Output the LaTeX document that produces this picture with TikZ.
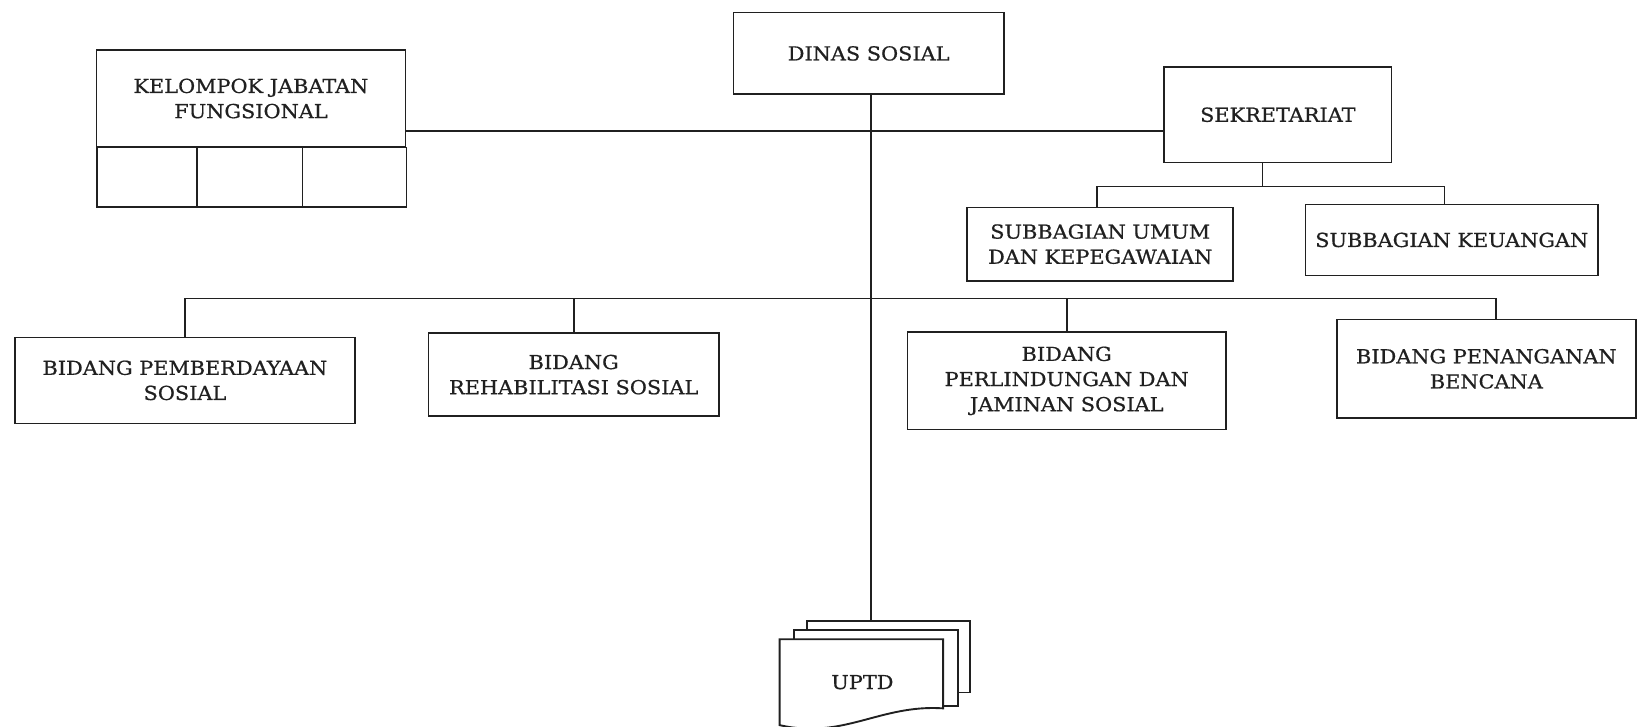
\documentclass[tikz,border=0pt]{standalone}
\usepackage{fontspec}
\setmainfont{DejaVu Serif}[FakeStretch=1.08, FakeBold=0.7]
\usetikzlibrary{calc}
\definecolor{ink}{HTML}{202020}
\begin{document}
\begin{tikzpicture}[x=0.5pt,y=-0.5pt,
  box/.style={draw=ink, line width=0.8pt, fill=white, align=center, inner sep=2pt,
    text=ink, font=\fontsize{9.2}{12}\selectfont},
  wire/.style={draw=ink, line width=0.8pt},
  sheet/.style={draw=ink, line width=0.9pt, fill=white}]
\useasboundingbox (0,0) rectangle (1568,693);

% head office and secretariat
\node[box, minimum width=129pt, minimum height=39pt] (dinas) at (829,51) {DINAS SOSIAL};
\node[box, minimum width=108.5pt, minimum height=45.5pt] (sek) at (1219.5,109.5) {SEKRETARIAT};
\node[box, minimum width=127pt, minimum height=35pt] (sub1) at (1050,233) {SUBBAGIAN UMUM\\DAN KEPEGAWAIAN};
\node[box, minimum width=139.5pt, minimum height=34pt] (sub2) at (1385.5,229) {SUBBAGIAN KEUANGAN};

% functional group with its three empty cells
\node[box, minimum width=147.5pt, minimum height=46pt] (kjf) at (239.5,94) {KELOMPOK JABATAN\\FUNGSIONAL};
\node[box, minimum width=47.5pt, minimum height=28.5pt, anchor=north west] (kjfa) at (92,140) {};
\node[box, minimum width=50.5pt, minimum height=28.5pt, anchor=north west] (kjfb) at (187,140) {};
\node[box, minimum width=49.5pt, minimum height=28.5pt, anchor=north west] (kjfc) at (288,140) {};

% divisions
\node[box, minimum width=162.5pt, minimum height=41pt] (b1) at (176.5,363) {BIDANG PEMBERDAYAAN\\SOSIAL};
\node[box, minimum width=138.5pt, minimum height=39.5pt] (b2) at (547.5,357.5) {BIDANG\\REHABILITASI SOSIAL};
\node[box, minimum width=152pt, minimum height=46.5pt] (b3) at (1018,363.5) {BIDANG\\PERLINDUNGAN DAN\\JAMINAN SOSIAL};
\node[box, minimum width=142.5pt, minimum height=47pt] (b4) at (1418.5,352) {BIDANG PENANGANAN\\BENCANA};

% stacked UPTD sheets
\node[sheet, minimum width=78pt, minimum height=34pt, anchor=north west] (uptdback) at (769,592) {};
\node[sheet, minimum width=78pt, minimum height=36.5pt, anchor=north west] (uptdmid) at (757,600) {};
\path[sheet] (744,610) -- (900,610) -- (900,676)
  .. controls (840,672) and (805,706) .. (744,692) -- cycle;
\node[text=ink, font=\fontsize{9.2}{12}\selectfont] (uptd) at (823,651) {UPTD};

% bus lines
\coordinate (topbus) at (831,125);
\coordinate (sekbus) at (1205,178);
\coordinate (bidbus) at (831,285);

\draw[wire] (dinas.south -| topbus) -- (uptdback.north -| topbus);
\draw[wire] (kjf.east |- topbus) -- (sek.west |- topbus);
\draw[wire] (sek.south -| sekbus) -- (sekbus);
\draw[wire] ([xshift=-1.5pt]sub1.north) |- (sekbus) -| ([xshift=-3.5pt]sub2.north);
\draw[wire] (b1.north) |- (bidbus) -| ([xshift=4.75pt]b4.north);
\draw[wire] (b2.north) -- (b2.north |- bidbus);
\draw[wire] (b3.north) -- (b3.north |- bidbus);
\end{tikzpicture}
\end{document}
